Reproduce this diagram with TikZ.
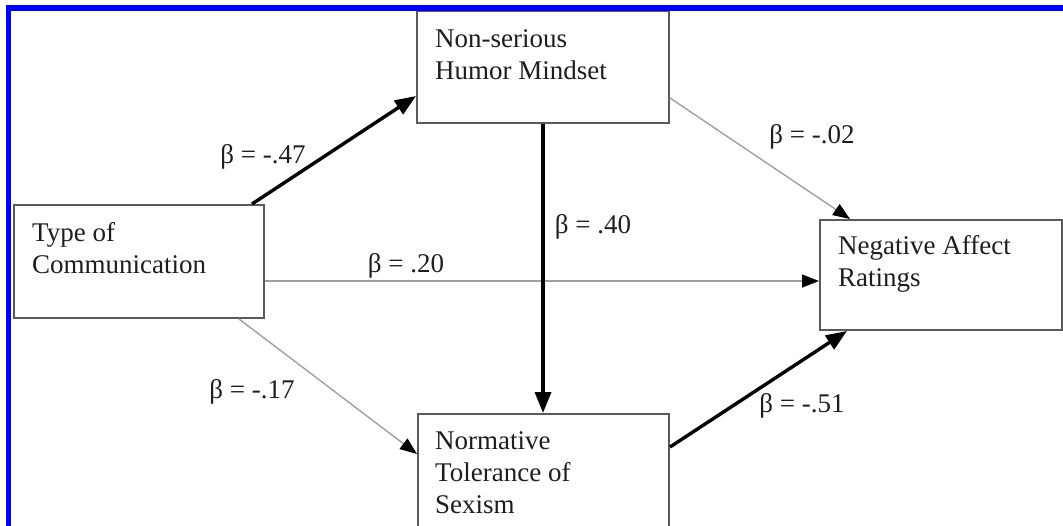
\documentclass[tikz,border=0pt]{standalone}
\usepackage{fontspec}
\setmainfont{Liberation Serif}
\usetikzlibrary{arrows.meta,calc}
\definecolor{boxgray}{HTML}{5A5A5A}
\definecolor{thingray}{HTML}{A0A0A0}
\definecolor{txt}{HTML}{1E1E1E}
\begin{document}
\begin{tikzpicture}[x=1pt,y=-1pt,
  box/.style={draw=boxgray,line width=2pt,rectangle,inner sep=0pt,anchor=north west},
  boxtext/.style={anchor=base west,align=left,inner sep=0pt,text=txt,font=\fontsize{27}{32}\selectfont},
  coef/.style={anchor=base,inner sep=0pt,text=txt,font=\fontsize{27}{32}\selectfont},
  strong/.style={draw=black,line width=3.4pt,-{Triangle[length=21pt,width=16pt]}},
  weak/.style={draw=thingray,line width=1.4pt,-{Triangle[length=17pt,width=13pt,color=black]}}]
\useasboundingbox (0,0) rectangle (1063,525);
\fill[white] (0,0) rectangle (1063,525);
% boxes
\node[box,minimum width=250pt,minimum height=113pt] (tc) at (13,204) {};
\node[box,minimum width=252pt,minimum height=112pt] (ns) at (416,10) {};
\node[box,minimum width=251pt,minimum height=122pt] (nt) at (417,413) {};
\node[box,minimum width=242pt,minimum height=110pt] (na) at (819,219) {};
% box texts (anchored at the baseline of the last line)
\node[boxtext] (tct) at (32,273) {Type of\\Communication};
\node[boxtext] (nst) at (435,79) {Non-serious\\Humor Mindset};
\node[boxtext] (ntt) at (435,513) {Normative\\Tolerance of\\Sexism};
\node[boxtext] (nat) at (838,286) {Negative Affect\\Ratings};
% connectors
\draw[strong] ([xshift=-13pt]tc.north east) -- ([yshift=-29pt]ns.west);
\draw[weak] ([yshift=-31pt]ns.east) -- ([xshift=31pt]na.north west);
\coordinate (h) at ([yshift=-19.5pt]tc.east);
\draw[weak] (h) -- (h -| na.west);
\draw[strong] (ns.south) -- (ns.south |- nt.north);
\draw[weak] ([xshift=-26pt]tc.south east) -- ([yshift=21pt]nt.west);
\draw[strong] ([yshift=28pt]nt.east) -- ([xshift=28pt]na.south west);
% coefficients
\node[coef] (b1) at (263,163) {β = -.47};
\node[coef] (b2) at (812,143) {β = -.02};
\node[coef] (b3) at (406,272) {β = .20};
\node[coef] (b4) at (593,233) {β = .40};
\node[coef] (b5) at (252,398) {β = -.17};
\node[coef] (b6) at (802,412) {β = -.51};
% blue frame
\draw[draw={rgb,255:red,0;green,0;blue,255},line width=5.5pt] (8.5,600) -- (8.5,8) -- (1100,8);
\end{tikzpicture}
\end{document}
